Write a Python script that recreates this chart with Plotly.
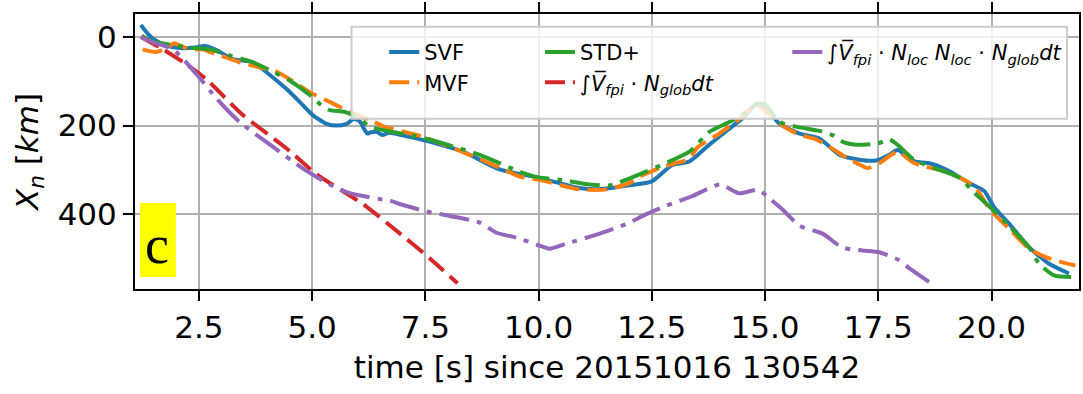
import plotly.graph_objects as go

# --- series: time [s] and X_n [km] ---
t_svf = [1.22, 1.35, 1.5, 1.75, 2.1, 2.45, 2.65, 2.9, 3.25, 3.7, 4.0, 4.43, 4.73, 5.02, 5.32,
         5.54, 5.76, 5.92, 6.05, 6.15, 6.22, 6.3, 6.42, 6.55, 6.7, 7.0, 7.5, 8.33, 9.14, 10.0,
         10.9, 11.28, 11.6, 12.0, 12.5, 12.95, 13.33, 13.77, 14.21, 14.54, 14.8, 15.05, 15.32,
         15.76, 16.2, 16.64, 17.08, 17.45, 17.74, 17.92, 18.3, 18.63, 19.07, 19.51, 19.84,
         20.06, 20.39, 20.83, 21.27, 21.71]
x_svf = [-27, -10, 5, 18, 25, 23, 20, 30, 50, 57, 80, 117, 147, 177, 196,
         200, 196, 185, 190, 208, 218, 215, 214, 221, 216, 222, 234, 259, 299, 318,
         341, 344, 341, 335, 326, 289, 281, 243, 207, 180, 152, 165, 196,
         218, 229, 266, 277, 279, 266, 255, 281, 285, 303, 330, 348,
         385, 422, 475, 512, 534]

t_mvf = [1.26, 1.55, 1.8, 1.95, 2.1, 2.3, 2.6, 2.85, 3.1, 3.4, 3.6, 3.85, 4.17, 4.5, 4.95,
         5.4, 5.83, 6.27, 6.6, 7.0, 7.5, 8.48, 9.14, 9.58, 10.0, 10.9, 11.5, 12.0, 12.23,
         12.67, 13.0, 13.2, 13.35, 13.5, 13.99, 14.43, 14.8, 15.1, 15.43, 15.76, 16.1,
         16.42, 16.82, 17.08, 17.26, 17.52, 17.92, 18.3, 19.07, 19.62, 19.95, 20.39, 20.83,
         21.27, 21.85]
x_mvf = [28, 34, 25, 14, 20, 28, 28, 38, 46, 57, 62, 69, 76, 95, 125,
         147, 169, 187, 203, 213, 227, 266, 295, 315, 322, 344, 344, 330, 315,
         296, 285, 280, 272, 250, 218, 185, 153, 175, 203, 221, 230,
         248, 274, 288, 296, 285, 259, 285, 307, 337, 388, 433, 478,
         500, 516]

t_std = [1.24, 1.42, 1.86, 2.3, 2.75, 3.19, 3.63, 4.07, 4.5, 4.95, 5.17, 5.39, 5.72, 6.05,
         6.27, 7.5, 8.7, 9.58, 10.0, 10.46, 11.13, 11.57, 12.23, 12.89, 13.33, 13.77, 14.21,
         14.5, 14.83, 15.0, 15.32, 15.76, 16.2, 16.5, 16.74, 17.0, 17.5, 17.74, 17.92, 18.3,
         18.85, 19.29, 19.62, 19.95, 20.39, 20.83, 21.05, 21.38, 21.82]
x_std = [-3, 8, 17, 24, 28, 42, 55, 75, 98, 131, 151, 165, 169, 184,
         202, 229, 266, 304, 317, 322, 333, 335, 310, 281, 259, 214, 192,
         175, 151, 152, 192, 204, 212, 222, 238, 243, 240, 231, 243, 278,
         300, 318, 352, 382, 427, 475, 512, 538, 542]

t_glob = [1.22, 1.71, 2.2, 2.66, 3.47, 4.43, 5.1, 6.12, 6.87, 7.6, 8.21]
x_glob = [0, 28, 60, 95, 176, 251, 310, 377, 438, 500, 556]

t_loc = [1.22, 1.5, 1.93, 2.45, 2.9, 3.4, 4.07, 4.8, 5.39, 5.76, 6.12, 6.5, 6.71, 6.93, 7.49,
         8.04, 8.7, 9.07, 9.51, 10.02, 10.24, 10.6, 11.35, 11.94, 12.38, 12.82, 13.4, 14.0,
         14.43, 14.85, 15.1, 15.39, 15.76, 16.27, 16.7, 17.15, 17.52, 17.96, 18.18, 18.62]
x_loc = [0, 12, 28, 84, 140, 192, 243, 297, 333, 350, 359, 366, 369, 377, 393,
         404, 419, 442, 453, 471, 478, 467, 444, 422, 400, 381, 359, 333,
         353, 345, 365, 390, 426, 444, 475, 482, 486, 504, 522, 553]

x_ticks = [2.5, 5.0, 7.5, 10.0, 12.5, 15.0, 17.5, 20.0]
y_ticks = [0, 200, 400]

FONT = "DejaVu Sans"
LW = 4

glob_label = "∫<i>V̅</i><sub><i>fpi</i></sub> · <i>N</i><sub><i>glob</i></sub><i>dt</i>"
loc_label = ("∫<i>V̅</i><sub><i>fpi</i></sub> · <i>N</i><sub><i>loc</i></sub> "
             "<i>N</i><sub><i>loc</i></sub> · <i>N</i><sub><i>glob</i></sub><i>dt</i>")


def line(color, dash=None):
    d = dict(color=color, width=LW, shape="spline", smoothing=0.6)
    if dash:
        d["dash"] = dash
    return d


fig = go.Figure()
fig.add_trace(go.Scatter(x=t_svf, y=x_svf, mode="lines", name="SVF", legend="legend",
                         legendgroup="a", line=line("#1f77b4")))
fig.add_trace(go.Scatter(x=t_mvf, y=x_mvf, mode="lines", name="MVF", legend="legend",
                         legendgroup="b", line=line("#ff7f0e", "20px,8px")))
fig.add_trace(go.Scatter(x=t_std, y=x_std, mode="lines", name="STD+", legend="legend2",
                         legendgroup="c", line=line("#2ca02c", "30px,8px,5px,8px")))
fig.add_trace(go.Scatter(x=t_glob, y=x_glob, mode="lines", name=glob_label, legend="legend2",
                         legendgroup="d", line=line("#d62728", "20px,8px")))
fig.add_trace(go.Scatter(x=t_loc, y=x_loc, mode="lines", name=loc_label, legend="legend3",
                         legendgroup="e", line=line("#9467bd", "30px,8px,5px,8px")))

leg_common = dict(bgcolor="rgba(0,0,0,0)", borderwidth=0, yanchor="top", xanchor="left",
                  font=dict(family=FONT, size=21, color="black"), tracegroupgap=0,
                  orientation="v")

axis_common = dict(showline=True, linecolor="black", linewidth=2,
                   ticks="outside", ticklen=10, tickwidth=2, tickcolor="black",
                   showgrid=True, gridcolor="#b0b0b0", gridwidth=1.6, zeroline=False,
                   tickfont=dict(family=FONT, size=31, color="black"))

fig.update_layout(
    width=1083, height=394,
    margin=dict(l=135, r=2, t=11, b=105),
    paper_bgcolor="white", plot_bgcolor="white",
    font=dict(family=FONT, color="black"),
    xaxis=dict(range=[1.09, 21.93], tickvals=x_ticks, ticktext=[f"{v:.1f}" for v in x_ticks],
               mirror="ticks",
               title=dict(text="time [s] since 20151016 130542",
                          font=dict(family=FONT, size=31), standoff=12),
               **axis_common),
    yaxis=dict(range=[569, -52], tickvals=y_ticks, ticktext=[str(v) for v in y_ticks],
               mirror=True,
               title=dict(text="<i>X</i><sub><i>n</i></sub> [<i>km</i>]",
                          font=dict(family=FONT, size=31), standoff=10),
               **axis_common),
    legend=dict(x=0.264, y=0.935, **leg_common),
    legend2=dict(x=0.429, y=0.935, **leg_common),
    legend3=dict(x=0.691, y=0.935, **leg_common),
    shapes=[
        # legend frame
        dict(type="rect", xref="paper", yref="paper", x0=0.2294, x1=0.9873, y0=0.6187,
             y1=0.9532, line=dict(color="#cccccc", width=2),
             fillcolor="rgba(255,255,255,0.8)", layer="above"),
        # panel tag background
        dict(type="rect", xref="paper", yref="paper", x0=0.0053, x1=0.0433, y0=0.0432,
             y1=0.3130, line=dict(width=0), fillcolor="#ffff00", layer="above"),
    ],
    annotations=[
        dict(text="c", xref="paper", yref="paper", x=0.0233, y=0.16, showarrow=False,
             font=dict(family="Liberation Serif", size=54, color="black"),
             xanchor="center", yanchor="middle"),
    ],
)

fig.write_html("out.html")
